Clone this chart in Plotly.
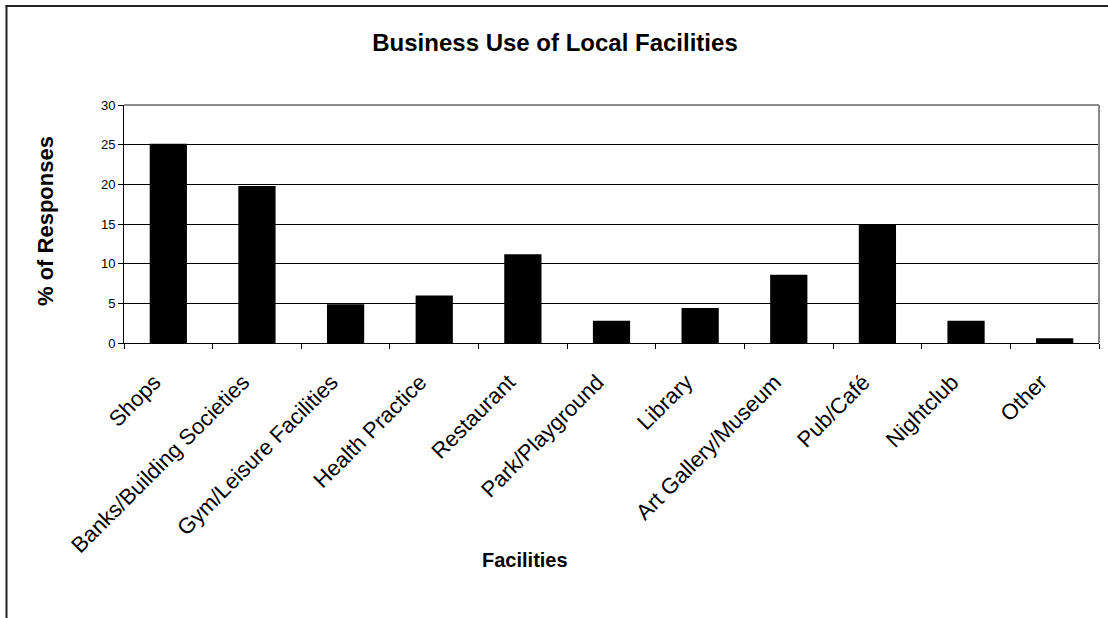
import plotly.graph_objects as go

categories = ["Shops", "Banks/Building Societies", "Gym/Leisure Facilities", "Health Practice",
              "Restaurant", "Park/Playground", "Library", "Art Gallery/Museum", "Pub/Café",
              "Nightclub", "Other"]
values = [25.1, 19.8, 4.9, 6.0, 11.2, 2.8, 4.4, 8.6, 15.0, 2.8, 0.6]
y_ticks = [0, 5, 10, 15, 20, 25, 30]

FONT = "Arial, Liberation Sans, sans-serif"

fig = go.Figure(go.Bar(x=categories, y=values, marker=dict(color="black", line=dict(width=0)),
                       width=0.42))

W, H = 1108, 618
L, R, T, B = 124, 9, 105, 275
pw, ph = W - L - R, H - T - B
n = len(categories)
label_shift = 14 / (pw / n)  # labels sit slightly left of the category centre

def px_x(p):
    return (p - L) / pw

def px_y(p):
    return (H - B - p) / ph

fig.update_layout(
    width=W, height=H,
    margin=dict(l=L, r=R, t=T, b=B),
    paper_bgcolor="white", plot_bgcolor="white",
    showlegend=False,
    font=dict(family=FONT, color="black"),
    title=dict(text="<b>Business Use of Local Facilities</b>", x=555 / W, xanchor="center",
               y=1 - 43 / H, yanchor="middle", yref="container",
               font=dict(size=24, family=FONT, color="black")),
    xaxis=dict(showline=True, linecolor="black", linewidth=1, ticks="outside", ticklen=5,
               tickcolor="black", tickson="boundaries", showticklabels=False, showgrid=False,
               range=[-0.5, n - 0.5]),
    xaxis2=dict(overlaying="x", anchor="y", side="bottom", type="linear",
                range=[-0.5, n - 0.5], tickmode="array",
                tickvals=[i - label_shift for i in range(n)], ticktext=categories,
                tickangle=-45, tickfont=dict(size=22, family=FONT, color="black"),
                ticks="", showline=False, showgrid=False, zeroline=False,
                ticklabelstandoff=21),
    yaxis=dict(range=[0, 30], tickvals=y_ticks, showline=True, linecolor="black", linewidth=1,
               ticks="outside", ticklen=5, tickcolor="black", gridcolor="black", gridwidth=1,
               zeroline=False, tickfont=dict(size=13, family=FONT)),
    shapes=[
        dict(type="line", xref="paper", yref="paper", x0=0, x1=1, y0=1, y1=1,
             line=dict(color="#8a8a8a", width=2)),
        dict(type="line", xref="paper", yref="paper", x0=1, x1=1, y0=0, y1=1,
             line=dict(color="#8a8a8a", width=2)),
        dict(type="line", xref="paper", yref="paper", x0=px_x(6.5), x1=px_x(6.5),
             y0=px_y(5.5), y1=px_y(640), line=dict(color="#222222", width=2)),
        dict(type="line", xref="paper", yref="paper", x0=px_x(5.5), x1=px_x(1130),
             y0=px_y(6), y1=px_y(6), line=dict(color="#222222", width=2)),
    ],
    annotations=[
        dict(text="<b>Facilities</b>", xref="paper", yref="paper", x=px_x(525), y=px_y(560),
             xanchor="center", yanchor="middle", showarrow=False,
             font=dict(size=20, family=FONT, color="black")),
        dict(text="<b>% of Responses</b>", xref="paper", yref="paper", x=px_x(45), y=px_y(221),
             xanchor="center", yanchor="middle", showarrow=False, textangle=-90,
             font=dict(size=22, family=FONT, color="black")),
    ],
)

# invisible helper trace so the label axis is drawn
fig.add_trace(go.Scatter(x=[-0.5], y=[0], xaxis="x2", yaxis="y", mode="markers",
                         marker=dict(opacity=0), hoverinfo="skip", showlegend=False))

fig.write_html("out.html")
